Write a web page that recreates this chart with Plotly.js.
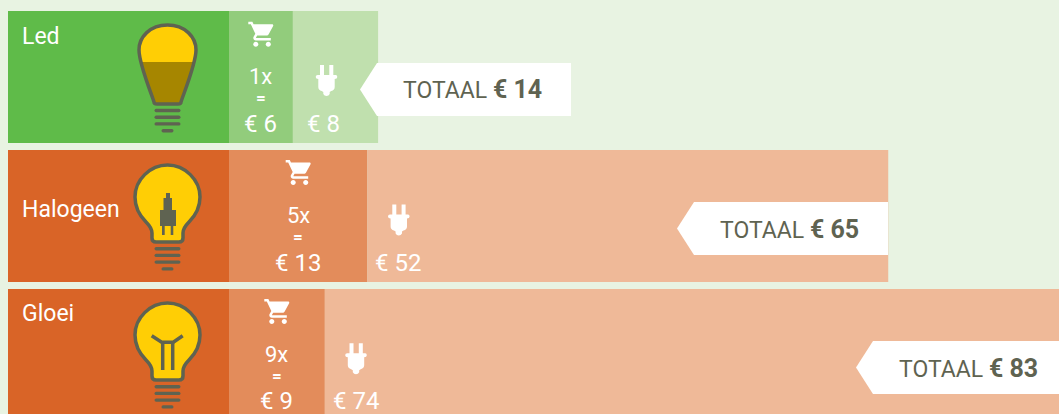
<!DOCTYPE html>
<html><head><meta charset="utf-8">
<script src="https://cdn.plot.ly/plotly-3.0.1.min.js"></script>
<style>html,body{margin:0;padding:0;background:#E8F3E2;overflow:hidden}#c{width:1059px;height:414px}</style>
</head><body><div id="c"></div>
<script>
// Data
const categories = ['Led', 'Halogeen', 'Gloei'];
const aankoop = [6, 13, 9];            // purchase bar, euro
const verbruik = [8, 48.9, 74];        // energy bar as drawn (the Halogeen bar is drawn shorter than its label)
const verbruikLabels = ['€ 8', '€ 52', '€ 74'];
const aankoopLabels = ['€ 6', '€ 13', '€ 9'];
const aantal = ['1x', '5x', '9x'];
const totaal = ['€ 14', '€ 65', '€ 83'];

// Colours and layout
const W = 1059, H = 414, pxPerEuro = 10.65, zeroPx = 229, headLeft = 8, pitch = 139, firstCentre = 77;
const headColors = ['#5FBB49', '#D96427', '#D96427'];
const midColors = ['#92CC7C', '#E38C5B', '#E38C5B'];
const lightColors = ['#C0E0AE', '#EFB998', '#EFB998'];
const ink = '#5F6351', font = 'Roboto, sans-serif';
const xRange = [-zeroPx / pxPerEuro, (W - zeroPx) / pxPerEuro];
const headWidth = (zeroPx - headLeft) / pxPerEuro;

const traces = [
  {name: 'label', x: categories.map(() => -headWidth), marker: {color: headColors}},
  {name: 'aankoop', x: aankoop, marker: {color: midColors}},
  {name: 'verbruik', x: verbruik, marker: {color: lightColors}}
].map(t => Object.assign(t, {type: 'bar', orientation: 'h', y: categories, width: 132 / pitch, hoverinfo: 'skip'}));

// Icon helpers: pixel paths placed on the page in paper coordinates
function place(d, ox, oy, s) {
  s = s || 1;
  let i = 0;
  return d.replace(/-?\d+(\.\d+)?/g, m => {
    const v = parseFloat(m), isX = i++ % 2 === 0;
    return isX ? ((ox + v * s) / W).toFixed(5) : (1 - (oy + v * s) / H).toFixed(5);
  });
}
const shapes = [];
function add(d, fill, line, lw) {
  shapes.push({type: 'path', xref: 'paper', yref: 'paper', path: d,
    fillcolor: fill || 'rgba(0,0,0,0)', line: {color: line || 'rgba(0,0,0,0)', width: lw || 0}});
}
function circle(cx, cy, r) {
  const k = r * 0.5523;
  return `M${cx - r},${cy} C${cx - r},${cy - k} ${cx - k},${cy - r} ${cx},${cy - r} C${cx + k},${cy - r} ${cx + r},${cy - k} ${cx + r},${cy} C${cx + r},${cy + k} ${cx + k},${cy + r} ${cx},${cy + r} C${cx - k},${cy + r} ${cx - r},${cy + k} ${cx - r},${cy} Z`;
}
function pill(x0, x1, y) {
  return `M${x0 + 1.7},${y - 1.7} L${x1 - 1.7},${y - 1.7} Q${x1},${y - 1.7} ${x1},${y} Q${x1},${y + 1.7} ${x1 - 1.7},${y + 1.7} L${x0 + 1.7},${y + 1.7} Q${x0},${y + 1.7} ${x0},${y} Q${x0},${y - 1.7} ${x0 + 1.7},${y - 1.7} Z`;
}
const cartBody = 'M1,2 L1,4 L3,4 L6.6,11.59 L5.25,14.04 C5.09,14.32 5,14.65 5,15 C5,16.1 5.9,17 7,17 L19,17 L19,15 L7.42,15 C7.28,15 7.17,14.89 7.17,14.75 L7.2,14.63 L8.1,13 L15.55,13 C16.3,13 16.96,12.59 17.3,11.97 L20.88,5.48 C20.96,5.34 21,5.17 21,5 C21,4.45 20.55,4 20,4 L5.21,4 L4.27,2 Z';
function cart(x, y) {
  const ox = x - 1.25, oy = y - 2.5;
  add(place(cartBody, ox, oy, 1.25), '#fff');
  add(place(circle(7, 20, 2), ox, oy, 1.25), '#fff');
  add(place(circle(17, 20, 2), ox, oy, 1.25), '#fff');
}
const plugPath = 'M4.3,0 L8.3,0 L8.3,10 L13.6,10 L13.6,0 L17.6,0 L17.6,10 L20,10 Q21.6,10 21.6,12 Q21.6,14 19,14 L19,22 Q19,25 15.5,26 L14,27 L14,29 Q13,31 10.8,31 Q8.6,31 7.6,29 L7.6,27 L6,26 Q2.6,25 2.6,22 L2.6,14 Q0,14 0,12 Q0,10 2,10 L4.3,10 Z';
function plug(x, y) { add(place(plugPath, x, y), '#fff'); }

function screwBase(y) {
  [0, 6.7, 13.4].forEach(d => add(place(pill(154.5, 180.5, y + d), 0, 0), ink));
  add(place(pill(161.5, 173.5, y + 20.2), 0, 0), ink);
}
// Led bulb
const ledOutline = 'M167.5,25 C185,25 196,37 196,50 C196,62 187,85 182,99 L181,102 Q181,104 178,104 L157,104 Q154,104 154,102 L153,99 C148,85 139,62 139,50 C139,37 150,25 167.5,25 Z';
add(place(ledOutline, 0, 0), '#FFCE05');
add(place('M141,62 L194,62 C190,75 186,87 182,99 L181,102 Q181,104 178,104 L157,104 Q154,104 154,102 L153,99 C149,87 145,75 141,62 Z', 0, 0), '#A68600');
add(place(ledOutline, 0, 0), null, ink, 3.5);
screwBase(110.5);
// Round bulb, shared by Halogeen and Gloei
const roundBulb = 'M167.5,165 C185,165 200,180 200,197 C200,208 195,216 189,222 C186,225 183,229 183,233 L183,238 Q183,242 179,242 L156,242 Q152,242 152,238 L152,233 C152,229 149,225 146,222 C140,216 135,208 135,197 C135,180 150,165 167.5,165 Z';
add(place(roundBulb, 0, 0), '#FFCE05', ink, 3.5);
screwBase(248.7);
add(place('M166,193 L170,193 L170,198 L172,198 L172,210 L176,210 L176,226 L173.3,226 L173.3,235 L170.7,235 L170.7,226 L164.7,226 L164.7,235 L162,235 L162,226 L160,226 L160,210 L163.5,210 L163.5,198 L166,198 Z', 0, 0), ink);
add(place(roundBulb, 0, 138), '#FFCE05', ink, 3.5);
screwBase(386.7);
add(place('M151.7,335.7 L161.7,342.3 L173.3,342.3 L182.7,335.7', 0, 0), null, ink, 3.5);
add(place('M162.7,342.3 L162.7,370', 0, 0), null, ink, 3.5);
add(place('M172.7,342.3 L172.7,370', 0, 0), null, ink, 3.5);

cart(248.3, 21.7); cart(285.7, 160); cart(264.3, 299);
plug(315.7, 65); plug(388, 204.5); plug(345.2, 343.3);

// Total callouts
const calloutLeft = [360, 677, 856], calloutRight = [571, 888, 1059], calloutTop = [63, 202, 341];
calloutLeft.forEach((l, i) => {
  const t = calloutTop[i], b = t + 53, r = calloutRight[i];
  add(place(`M${l},${t + 26.5} L${l + 17},${t} L${r},${t} L${r},${b} L${l + 17},${b} Z`, 0, 0), '#fff');
});

// Text
const annotations = [];
function text(t, xPx, yPx, size, anchor, color) {
  annotations.push({text: t, xref: 'paper', yref: 'paper', x: xPx / W, y: 1 - yPx / H, showarrow: false,
    xanchor: anchor || 'center', yanchor: 'middle', font: {family: font, size: size, color: color || '#fff'}, borderpad: 0, borderwidth: 0});
}
const labelY = [37, 209, 313];
const euroRowY = [124, 263, 401];
categories.forEach((c, i) => {
  text(c, 22, labelY[i], 23, 'left');
  const mid = zeroPx + aankoop[i] * pxPerEuro / 2;
  const end = zeroPx + aankoop[i] * pxPerEuro;
  const top = 11 + i * pitch;
  text(aantal[i], mid, top + 65, 22);
  text('<b>=</b>', mid, top + 87, 17);
  text(aankoopLabels[i], mid, euroRowY[i], 24);
  text(verbruikLabels[i], end + 31, euroRowY[i], 24);
  text('TOTAAL <b style="font-size:25px">' + totaal[i] + '</b>', calloutLeft[i] + 43, calloutTop[i] + 27, 23, 'left', ink);
});

const layout = {
  width: W, height: H, margin: {l: 0, r: 0, t: 0, b: 0, pad: 0},
  paper_bgcolor: '#E8F3E2', plot_bgcolor: '#E8F3E2',
  barmode: 'relative', showlegend: false,
  xaxis: {visible: false, range: xRange, fixedrange: true},
  yaxis: {visible: false, type: 'category', categoryorder: 'array', categoryarray: categories,
    range: [(H - firstCentre) / pitch, -firstCentre / pitch], fixedrange: true},
  shapes, annotations
};
Plotly.newPlot('c', traces, layout, {displayModeBar: false, staticPlot: true});
</script></body></html>
